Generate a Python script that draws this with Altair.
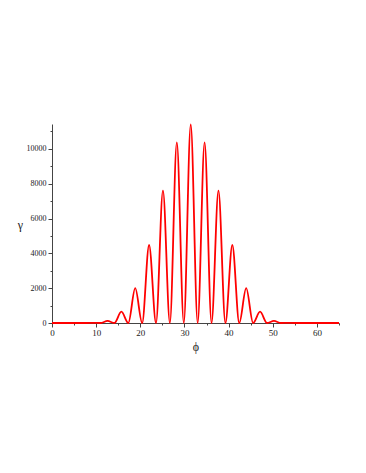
import altair as alt
import pandas as pd

# Curve: alternating troughs and peaks
phi = [0.0, 7.85, 9.42, 11.00, 12.57, 14.14, 15.71, 17.28, 18.85, 20.42,
       21.99, 23.56, 25.13, 26.70, 28.27, 29.85, 31.42, 32.99, 34.56, 36.13,
       37.70, 39.27, 40.84, 42.41, 43.98, 45.55, 47.12, 48.69, 50.27, 51.84,
       53.41, 54.98, 65.0]
gamma = [0, 0, 12, 0, 120, 0, 650, 0, 2000, 0,
         4480, 0, 7600, 0, 10370, 0, 11400, 0, 10370, 0,
         7600, 0, 4480, 0, 2000, 0, 650, 0, 120, 0,
         12, 0, 0]

x_major = [0, 10, 20, 30, 40, 50, 60]
x_minor = [5, 15, 25, 35, 45, 55, 65]
y_major = [0, 2000, 4000, 6000, 8000, 10000]
y_minor = [1000, 3000, 5000, 7000, 9000, 11000]

df = pd.DataFrame({"phi": phi, "gamma": gamma})

FONT = "Liberation Serif"
AX = "#444444"

xs = alt.Scale(domain=[0, 65], nice=False, zero=False)
ys = alt.Scale(domain=[0, 11430], nice=False, zero=False)

base = alt.Chart(df)

minor = base.mark_line(opacity=0).encode(
    x=alt.X("phi:Q", scale=xs, axis=alt.Axis(values=x_minor, labels=False, title=None,
                                             tickSize=2, domain=False, grid=False,
                                             orient="bottom", tickColor=AX)),
    y=alt.Y("gamma:Q", scale=ys, axis=alt.Axis(values=y_minor, labels=False, title=None,
                                               tickSize=2, domain=False, grid=False,
                                               orient="left", tickColor=AX)),
)

line = base.mark_line(color="#ff0000", strokeWidth=1.8, interpolate="monotone").encode(
    x=alt.X("phi:Q", scale=xs, axis=alt.Axis(
        values=x_major, title="ϕ", grid=False, orient="bottom", format="d",
        tickSize=4, labelPadding=1, labelFont=FONT, labelFontSize=9, labelColor="#222",
        titleFont=FONT, titleFontSize=12, titleFontWeight="normal", titlePadding=4,
        titleColor="#222", domainColor=AX, tickColor=AX, labelFlush=False)),
    y=alt.Y("gamma:Q", scale=ys, axis=alt.Axis(
        values=y_major, title="γ", grid=False, orient="left", format="d",
        tickSize=4, labelPadding=2, labelFont=FONT, labelFontSize=8, labelColor="#222",
        titleFont=FONT, titleFontSize=12, titleFontWeight="normal", titleAngle=0,
        titleAlign="center", titleBaseline="middle", titleX=-32, titleY=100,
        titleColor="#222", domainColor=AX, tickColor=AX, labelFlush=False)),
)

chart = alt.layer(minor, line).resolve_axis(x="independent", y="independent").properties(
    width=287, height=199,
    autosize=alt.AutoSizeParams(type="none"),
    padding={"left": 44, "top": 116, "right": 10, "bottom": 60},
    background="white",
).configure_view(stroke="transparent", strokeWidth=0)

chart.save("out.html", embed_options={"renderer": "svg", "actions": False})
